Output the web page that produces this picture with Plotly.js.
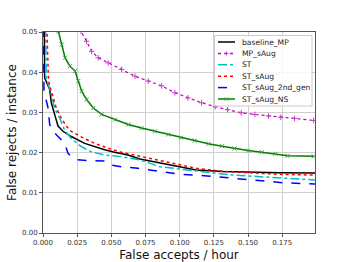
<!DOCTYPE html>
<html><head><meta charset="utf-8">
<script src="https://cdn.plot.ly/plotly-3.0.1.min.js"></script>
<style>body{margin:0;padding:0;background:#fff}#chart{width:350px;height:262px}</style>
</head><body><div id="chart"></div>
<script>
const baseX = [0.0008,0.0012,0.0049,0.0061,0.0085,0.011,0.0146,0.0207,0.0305,0.0378,0.0451,0.0524,0.0621,0.0709,0.0855,0.100,0.112,0.132,0.151,0.173,0.199];
const baseY = [0.060,0.0386,0.0357,0.0324,0.0295,0.0266,0.0253,0.0240,0.0223,0.0215,0.0207,0.0201,0.0194,0.0184,0.0175,0.0165,0.0157,0.0153,0.0151,0.0150,0.0149];

const mpX = [0.024,0.0278,0.0319,0.0356,0.0404,0.0477,0.0575,0.0673,0.0770,0.0868,0.0965,0.106,0.116,0.126,0.135,0.145,0.155,0.165,0.174,0.184,0.198];
const mpY = [0.060,0.0502,0.0477,0.0452,0.0436,0.0423,0.0407,0.0390,0.0378,0.0366,0.0349,0.0336,0.0324,0.0314,0.0307,0.0299,0.0295,0.0291,0.0288,0.0285,0.0280];

const stX = [0.0015,0.0024,0.0061,0.0085,0.0122,0.0159,0.0207,0.028,0.0353,0.0451,0.0572,0.0694,0.0768,0.0855,0.100,0.120,0.139,0.159,0.178,0.199];
const stY = [0.060,0.0386,0.0344,0.0311,0.0286,0.0255,0.0235,0.0215,0.0202,0.0194,0.0190,0.0183,0.0175,0.0165,0.0159,0.0151,0.0144,0.0140,0.0136,0.0132];

const saugX = [0.0020,0.0040,0.0060,0.0097,0.0134,0.0170,0.0207,0.0268,0.0378,0.0475,0.0572,0.0694,0.0768,0.0855,0.100,0.112,0.132,0.151,0.173,0.199];
const saugY = [0.060,0.0380,0.0353,0.0311,0.0286,0.0266,0.0253,0.0241,0.0223,0.0211,0.0201,0.0192,0.0186,0.0180,0.0169,0.0161,0.0153,0.0149,0.0146,0.0144];

const gen2X = [0.0003,0.0007,0.0037,0.0049,0.0073,0.0110,0.0159,0.0183,0.0232,0.0329,0.0451,0.0500,0.0572,0.0694,0.0768,0.0855,0.100,0.120,0.139,0.156,0.176,0.199];
const gen2Y = [0.060,0.0354,0.0311,0.0270,0.0253,0.0240,0.0223,0.0198,0.0183,0.0180,0.0179,0.0169,0.0165,0.0161,0.0157,0.0153,0.0146,0.0142,0.0136,0.0130,0.0125,0.0122];

const nsX = [0.0085,0.0112,0.0137,0.0161,0.0197,0.0234,0.0258,0.0283,0.0319,0.0368,0.0429,0.0526,0.0624,0.0721,0.0819,0.0916,0.101,0.111,0.121,0.131,0.140,0.150,0.160,0.170,0.179,0.198];
const nsY = [0.060,0.0502,0.0469,0.0436,0.0415,0.0403,0.0378,0.0353,0.0332,0.0311,0.0295,0.0282,0.0270,0.0261,0.0253,0.0245,0.0237,0.0230,0.0222,0.0216,0.0210,0.0205,0.0201,0.0197,0.0192,0.0191];

const names = ['baseline_MP','MP_sAug','ST','ST_sAug','ST_sAug_2nd_gen','ST_sAug_NS'];
const colors = ['#000000','#bf00bf','#00bfbf','#ff0000','#0000ff','#008000'];
const dashes = ['solid','dot','dashdot','dot','dash','solid'];

const traces = [
  {x: baseX, y: baseY, name: names[0], mode: 'lines', line: {color: colors[0], width: 1.5}},
  {x: mpX, y: mpY, name: names[1], mode: 'lines+markers', line: {color: colors[1], width: 1.2, dash: dashes[1]}, marker: {symbol: 'cross-thin-open', size: 4, color: '#c93cc9', line: {color: '#c93cc9', width: 1}}},
  {x: stX, y: stY, name: names[2], mode: 'lines', line: {color: colors[2], width: 1.5, dash: dashes[2]}},
  {x: saugX, y: saugY, name: names[3], mode: 'lines', line: {color: colors[3], width: 1.5, dash: dashes[3]}},
  {x: gen2X, y: gen2Y, name: names[4], mode: 'lines', line: {color: colors[4], width: 1.5, dash: dashes[4]}},
  {x: nsX, y: nsY, name: names[5], mode: 'lines+markers', line: {color: colors[5], width: 1.5}, marker: {symbol: 'x-thin-open', size: 4, color: '#3c9c3c', line: {color: '#3c9c3c', width: 1}}}
];

// manual legend (paper coords inside plot area)
const L = 43, T = 32, W = 272, H = 201;
const px = v => (v - L) / W;
const py = v => (T + H - v) / H;
const shapes = [
  {type: 'rect', xref: 'paper', yref: 'paper', x0: px(214.5), x1: px(312), y0: py(35.5), y1: py(106), fillcolor: 'rgba(255,255,255,0.85)', line: {color: '#cccccc', width: 1}, layer: 'above'}
];
const annotations = [];
names.forEach((n, i) => {
  const yy = 42 + i * 11.4;
  shapes.push({type: 'line', xref: 'paper', yref: 'paper', x0: px(218), x1: px(235), y0: py(yy), y1: py(yy), line: {color: colors[i], width: 1.5, dash: dashes[i]}, layer: 'above'});
  if (i === 1) {
    shapes.push({type: 'path', xref: 'paper', yref: 'paper', path: `M ${px(224.5)} ${py(yy)} L ${px(228.5)} ${py(yy)} M ${px(226.5)} ${py(yy-2)} L ${px(226.5)} ${py(yy+2)}`, line: {color: '#c93cc9', width: 1}, layer: 'above'});
  }
  if (i === 5) {
    shapes.push({type: 'path', xref: 'paper', yref: 'paper', path: `M ${px(224.8)} ${py(yy-1.7)} L ${px(228.2)} ${py(yy+1.7)} M ${px(224.8)} ${py(yy+1.7)} L ${px(228.2)} ${py(yy-1.7)}`, line: {color: '#3c9c3c', width: 1}, layer: 'above'});
  }
  annotations.push({xref: 'paper', yref: 'paper', x: px(239.5), y: py(yy), xanchor: 'left', yanchor: 'middle', text: n, showarrow: false, font: {size: 7.6, color: '#222', family: 'DejaVu Sans'}});
});

const layout = {
  width: 350, height: 262,
  margin: {l: 43, r: 35, t: 32, b: 29},
  paper_bgcolor: '#ffffff', plot_bgcolor: '#ffffff',
  font: {family: 'DejaVu Sans', color: '#222'},
  showlegend: false,
  shapes: shapes,
  annotations: annotations,
  xaxis: {range: [0, 0.199], dtick: 0.025, tick0: 0, tickformat: '.3f', showgrid: true, gridcolor: '#cfcfcf', gridwidth: 1, zeroline: false, showline: true, linecolor: '#555', linewidth: 1, mirror: true, ticks: 'outside', ticklen: 3, tickcolor: '#555', tickfont: {size: 7, color: '#333'}, title: {text: 'False accepts / hour', font: {size: 12, color: '#111'}, standoff: 4}},
  yaxis: {range: [0, 0.05], dtick: 0.01, tick0: 0, tickformat: '.2f', showgrid: true, gridcolor: '#cfcfcf', gridwidth: 1, zeroline: false, showline: true, linecolor: '#555', linewidth: 1, mirror: true, ticks: 'outside', ticklen: 3, tickcolor: '#555', tickfont: {size: 7, color: '#333'}, title: {text: 'False rejects / instance', font: {size: 12, color: '#111'}, standoff: 2}}
};

Plotly.newPlot('chart', traces, layout, {staticPlot: true, displayModeBar: false});
</script></body></html>
